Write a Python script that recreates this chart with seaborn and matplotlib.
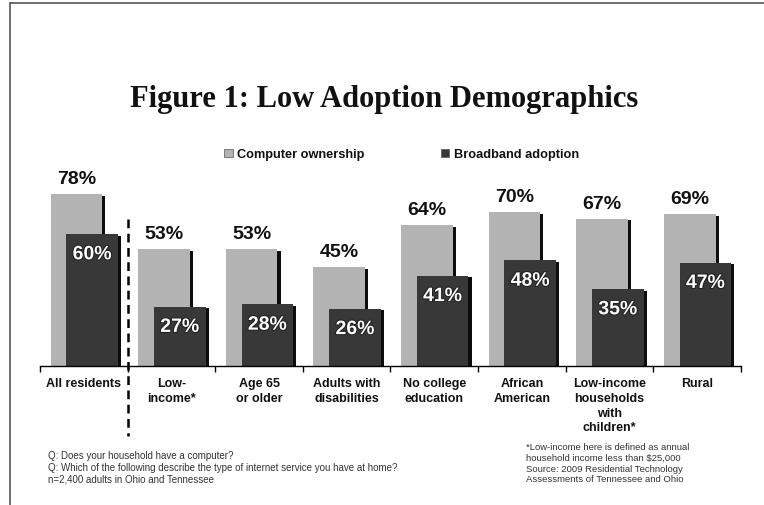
import numpy as np
import pandas as pd
import matplotlib
matplotlib.use("Agg")
import matplotlib.pyplot as plt
import matplotlib.patheffects as pe
from matplotlib.lines import Line2D
import seaborn as sns

# ---- data ----
categories = ["All residents", "Low-\nincome*", "Age 65\nor older", "Adults with\ndisabilities",
              "No college\neducation", "African\nAmerican", "Low-income\nhouseholds\nwith\nchildren*", "Rural"]
computer_ownership = [78, 53, 53, 45, 64, 70, 67, 69]
broadband_adoption = [60, 27, 28, 26, 41, 48, 35, 47]
series_names = ["Computer ownership", "Broadband adoption"]

title = "Figure 1: Low Adoption Demographics"
notes_left = ("Q: Does your household have a computer?\n"
              "Q: Which of the following describe the type of internet service you have at home?\n"
              "n=2,400 adults in Ohio and Tennessee")
notes_right = ("*Low-income here is defined as annual\n"
               "household income less than $25,000\n"
               "Source: 2009 Residential Technology\n"
               "Assessments of Tennessee and Ohio")

sns.set_theme(style="white")
plt.rcParams["font.family"] = ["Liberation Sans", "DejaVu Sans"]

W, H = 764, 506
fig = plt.figure(figsize=(W / 100, H / 100), dpi=100)
ax = fig.add_axes([40 / W, (H - 367) / H, (741 - 40) / W, 220 / H])

idx = np.arange(len(categories))
off_light, off_dark, bw = -0.085, 0.095, 0.59
light_c, dark_c = "#b3b3b3", "#383838"

df_light = pd.DataFrame({"x": idx + off_light, "v": computer_ownership})
df_dark = pd.DataFrame({"x": idx + off_dark, "v": broadband_adoption})
shadow = [pe.SimplePatchShadow(offset=(2.2, -1.2), shadow_rgbFace="black", alpha=0.95), pe.Normal()]

sns.barplot(data=df_light, x="x", y="v", native_scale=True, width=bw, color=light_c,
            saturation=1, edgecolor="none", linewidth=0, ax=ax, label=series_names[0])
sns.barplot(data=df_dark, x="x", y="v", native_scale=True, width=bw, color=dark_c,
            saturation=1, edgecolor="none", linewidth=0, ax=ax, label=series_names[1])

ax.set_xlim(-0.5, len(categories) - 0.5)
ax.set_ylim(0, 100)
ax.set_xlabel("")
ax.set_ylabel("")
ax.set_yticks([])
ax.set_xticks(idx)
ax.set_xticklabels(categories, fontsize=9, fontweight="bold", color="#111111", linespacing=1.3)
ax.set_xticks(np.arange(-0.5, len(categories), 1), minor=True)
ax.tick_params(axis="x", which="major", length=0, pad=8)
ax.tick_params(axis="x", which="minor", length=4, width=1, color="black", direction="out", bottom=True)
for s in ["top", "right", "left"]:
    ax.spines[s].set_visible(False)
ax.spines["bottom"].set_color("black")
ax.spines["bottom"].set_linewidth(1)

# legend (built before adding shadows so that handles stay flat)
leg = ax.legend(loc="center", bbox_to_anchor=(0.516, 0.962), ncol=2, frameon=False,
                prop={"weight": "bold", "size": 9.2}, handlelength=0.65, handleheight=0.65,
                handletextpad=0.35, columnspacing=6.0)
for t in leg.get_texts():
    t.set_color("#111111")
for h in leg.legend_handles:
    h.set_path_effects([])
    h.set_edgecolor("#555555")
    h.set_linewidth(0.5)

for p in ax.patches:
    p.set_path_effects(shadow)

# value labels
for i, (c, b) in enumerate(zip(computer_ownership, broadband_adoption)):
    ax.text(i + off_light, c + 5, f"{c}%", ha="center", va="baseline", fontsize=14,
            fontweight="bold", color="#111111")
    ax.text(i + off_dark, b - 11.5, f"{b}%", ha="center", va="baseline", fontsize=14,
            fontweight="bold", color="white",
            path_effects=[pe.withStroke(linewidth=1.5, foreground="#222222")])

# dashed separator
ax.plot([0.5, 0.5], [0.668, -0.32], transform=ax.get_xaxis_transform(), color="black",
        lw=1.8, linestyle=(0, (3.5, 2.2)), clip_on=False)

# title
fig.text(0.503, 1 - 100 / H, title, ha="center", va="center", fontsize=22, fontweight="bold",
         family=["Liberation Serif", "DejaVu Serif"], color="#111111")

# footnotes
fig.text(48 / W, 1 - 451 / H, notes_left, ha="left", va="top", fontsize=7, color="#333333",
         linespacing=1.25)
fig.text(526 / W, 1 - 443 / H, notes_right, ha="left", va="top", fontsize=6.8, color="#333333",
         linespacing=1.25)

# frame lines
fig.add_artist(Line2D([10 / W, 1], [1 - 4 / H, 1 - 4 / H], transform=fig.transFigure,
                      color="#555555", lw=1.2))
fig.add_artist(Line2D([10 / W, 10 / W], [0, 1 - 4 / H], transform=fig.transFigure,
                      color="#555555", lw=1.2))

fig.savefig("out.png", dpi=100, facecolor="white")
